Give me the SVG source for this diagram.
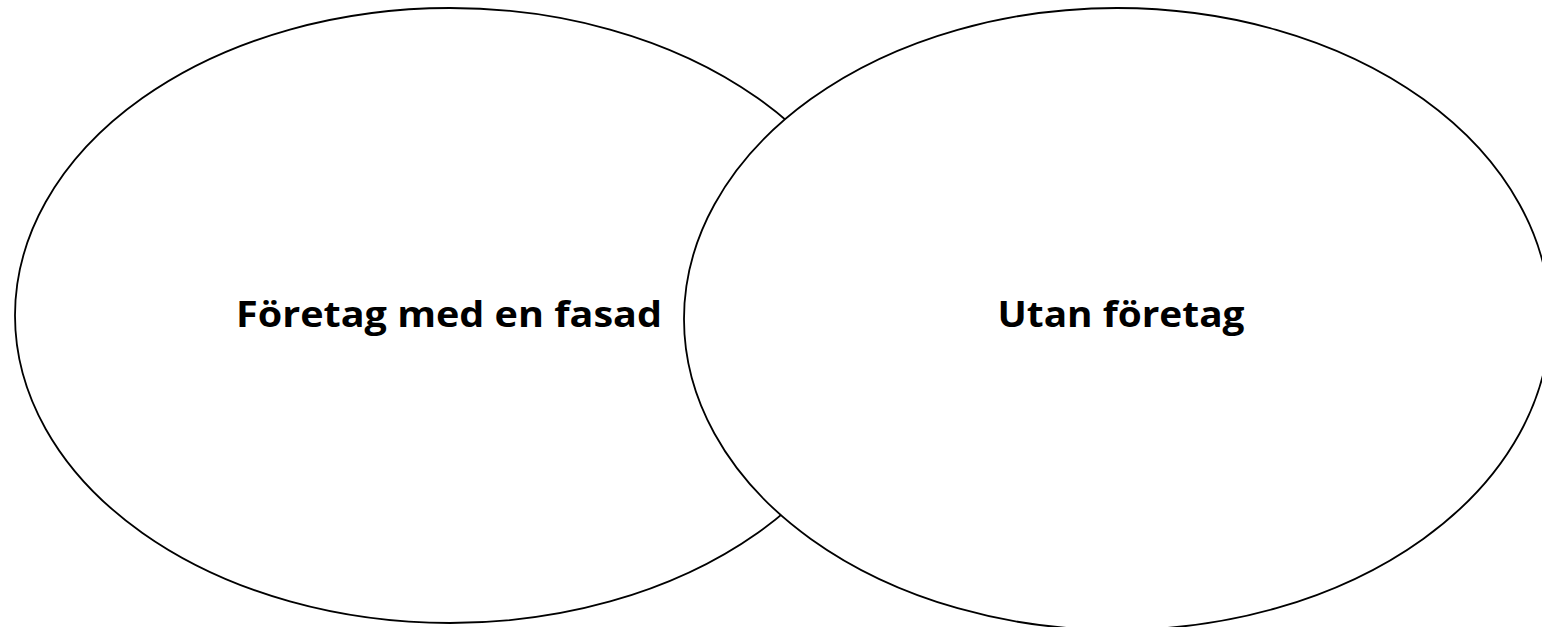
<svg xmlns="http://www.w3.org/2000/svg" width="1542" height="627" viewBox="0 0 1542 627">
<style>
.ell{fill:#ffffff;stroke:#000000;stroke-width:1.8}
.lbl{font-family:"Open Sans","Liberation Sans",sans-serif;font-weight:bold;font-size:36px;fill:#000000;text-anchor:middle}
</style>
<rect x="0" y="0" width="1542" height="627" fill="#ffffff"/>
<g id="connectors"></g>
<g id="node-left">
<ellipse class="ell" cx="450" cy="315.5" rx="435" ry="307.5"/>
<text class="lbl" x="449" y="327" textLength="426" lengthAdjust="spacingAndGlyphs">Företag med en fasad</text>
</g>
<g id="node-right">
<ellipse class="ell" cx="1117" cy="319" rx="433" ry="311"/>
<text class="lbl" x="1121" y="327" textLength="247" lengthAdjust="spacingAndGlyphs">Utan företag</text>
</g>
</svg>
